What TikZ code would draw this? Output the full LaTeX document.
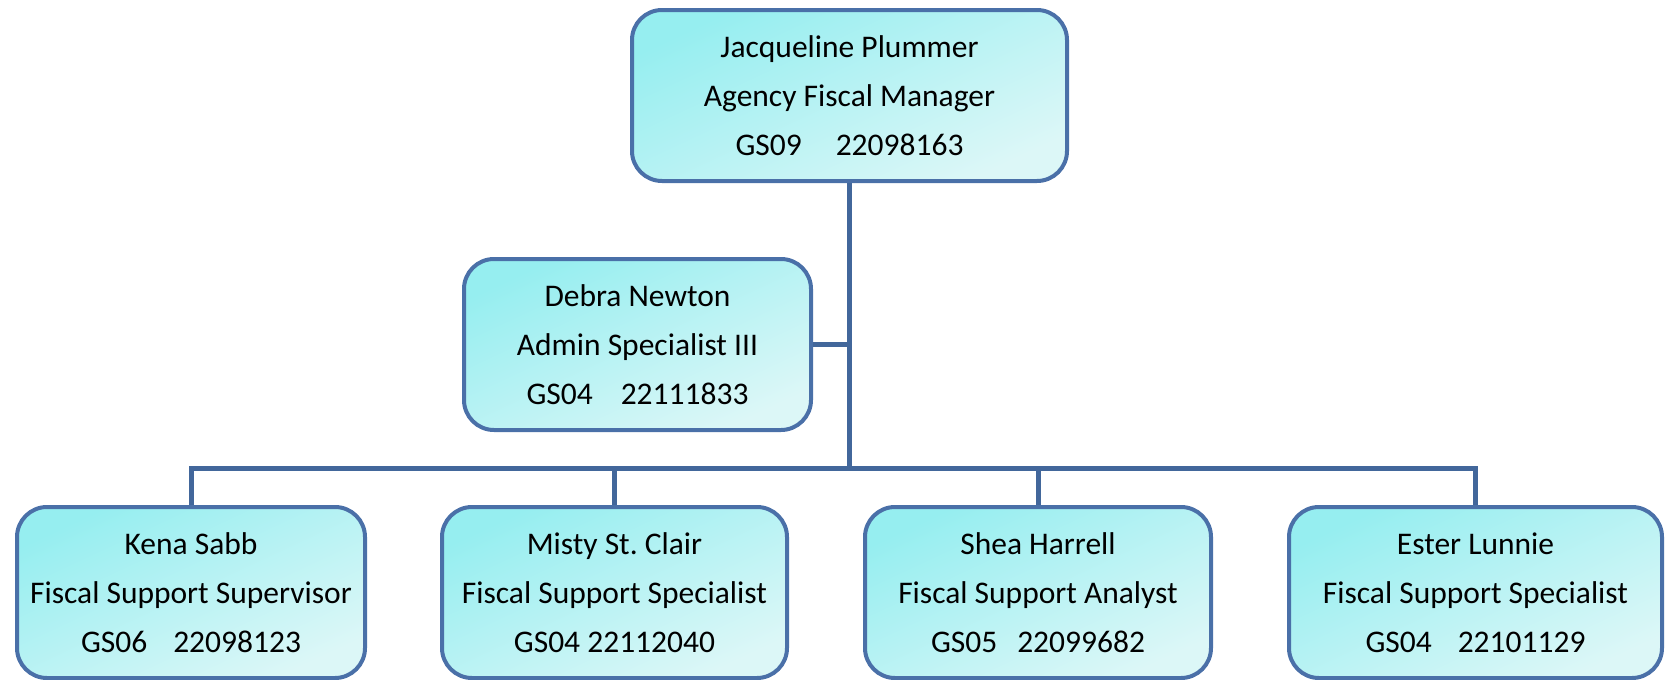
\documentclass[tikz,border=0pt]{standalone}
\usepackage{fontspec}
\setmainfont{Carlito}
\usetikzlibrary{calc}
\usetikzlibrary{positioning}

\definecolor{boxline}{RGB}{74,112,168}
\definecolor{linkline}{RGB}{66,103,155}
\definecolor{boxdark}{RGB}{150,238,240}
\definecolor{boxlight}{RGB}{220,247,247}

\begin{document}
\begin{tikzpicture}[x=1pt, y=-1pt,
    personbox/.style={rectangle, rounded corners=30pt, draw=boxline, line width=4pt,
        top color=boxdark, bottom color=boxlight, shading angle=25,
        inner sep=0pt, minimum height=171pt, align=center,
        font=\fontsize{31.5}{49}\selectfont\frenchspacing},
    link/.style={draw=linkline, line width=5pt}]
    \useasboundingbox (0,0) rectangle (1666,680);

    \node[personbox, minimum width=435pt] (manager) at (849.5,95.5) {Jacqueline Plummer\\Agency Fiscal Manager\\GS09\hspace{34pt}22098163};
    \node[personbox, minimum width=347pt] (admin) at (637.5,344.5) {Debra Newton\\Admin Specialist III\\GS04\hspace{28pt}22111833};
    \node[personbox, minimum width=348pt] (kena) at (191,592.5) {Kena Sabb\\Fiscal Support Supervisor\\GS06\hspace{26pt}22098123};
    \node[personbox, minimum width=345pt] (misty) at (614.5,592.5) {Misty St. Clair\\Fiscal Support Specialist\\GS04 22112040};
    \node[personbox, minimum width=346pt] (shea) at (1038,592.5) {Shea Harrell\\Fiscal Support Analyst\\GS05\hspace{20pt}22099682};
    \node[personbox, minimum width=373pt] (ester) at (1475.5,592.5) {Ester Lunnie\\Fiscal Support Specialist\\GS04\hspace{26pt}22101129};

    \coordinate (hub) at ($(manager.south |- 0,468)$);

    \draw[link] (manager.south) -- (hub);
    \draw[link] (admin.east) -- (admin.east -| hub);
    \draw[link] (kena.north) |- (hub) -| (ester.north);
    \draw[link] (misty.north) -- (misty.north |- hub);
    \draw[link] (shea.north) -- (shea.north |- hub);
\end{tikzpicture}
\end{document}
